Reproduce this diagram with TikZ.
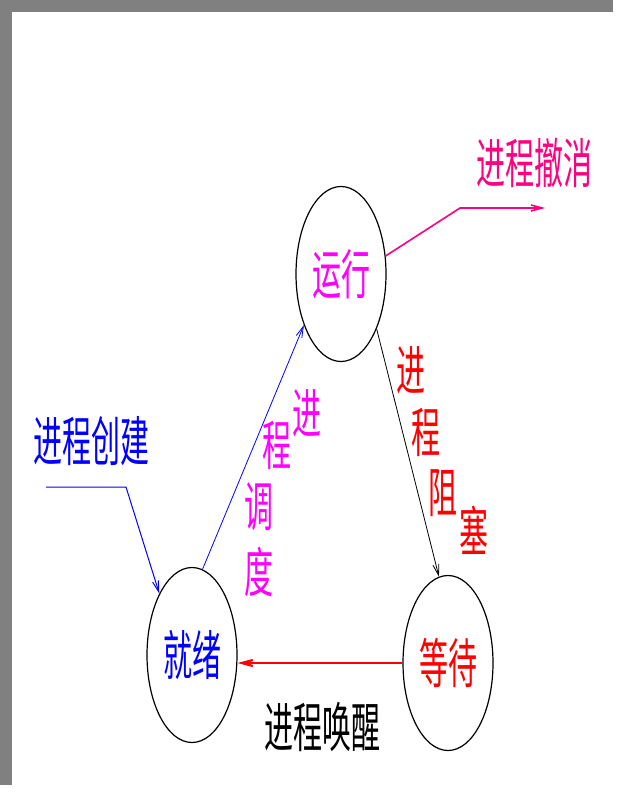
\documentclass[tikz,border=0pt]{standalone}
\usepackage{fontspec}
\newfontfamily\cjk{Noto Sans CJK SC}
\usetikzlibrary{shapes.geometric,arrows.meta}
\definecolor{deeppink}{RGB}{255,0,128}
\definecolor{violetpink}{RGB}{255,0,255}
\definecolor{edgegray}{RGB}{128,128,128}
\newcommand{\tall}[1]{\scalebox{1}[1.85]{#1}}
\tikzset{
    state/.style={draw,ellipse,line width=1.2pt,minimum width=90pt,minimum height=175pt,inner sep=0pt},
    cjktext/.style={font=\cjk\fontsize{29}{29}\selectfont,inner sep=0pt},
    barb/.style={-{Straight Barb[length=11pt,width=6pt]}}
}
\begin{document}
\begin{tikzpicture}[x=1pt,y=-1pt]
    \useasboundingbox (0,0) rectangle (626,799);
    \fill[edgegray] (0,0) rectangle (613,12);
    \fill[edgegray] (0,0) rectangle (12,785);

    % states
    \node[state] (run) at (341,274) {};
    \node[state] (ready) at (192,655) {};
    \node[state] (wait) at (448,663) {};
    \node[cjktext,violetpink] at (run) {\tall{运行}};
    \node[cjktext,blue] at (ready) {\tall{就绪}};
    \node[cjktext,red] at (wait) {\tall{等待}};

    % free ends
    \coordinate (cancelbend) at (460,208);
    \coordinate (cancelend) at (545,208);
    \coordinate (createstart) at (46,487);
    \coordinate (createbend) at (126,487);

    \node[cjktext,deeppink] (cancel) at (534,163) {\tall{进程撤消}};
    \node[cjktext,blue] (create) at (91,441) {\tall{进程创建}};
    \node[cjktext,black] (wake) at (322,727) {\tall{进程唤醒}};

    % vertical labels
    \foreach \ch/\px/\py in {进/307/413,程/277/445,调/259/507,度/259/572}
        \node[cjktext,violetpink] at (\px,\py) {\tall{\ch}};
    \foreach \ch/\px/\py in {进/411/370,程/426/432,阻/443/493,塞/474/530}
        \node[cjktext,red] at (\px,\py) {\tall{\ch}};

    % transitions
    \draw[barb,deeppink,line width=1.6pt] (run.22) -- (cancelbend) -- (cancelend);
    \draw[barb,blue,line width=1pt] (createstart) -- (createbend) -- (ready.118);
    \draw[barb,blue,line width=0.8pt] (ready.83) -- (run.234);
    \draw[barb,black,line width=0.8pt] (run.303) -- (wait.96);
    \draw[barb,red,line width=2.2pt] (wait.west) -- (ready.east |- wait.west);
\end{tikzpicture}
\end{document}
